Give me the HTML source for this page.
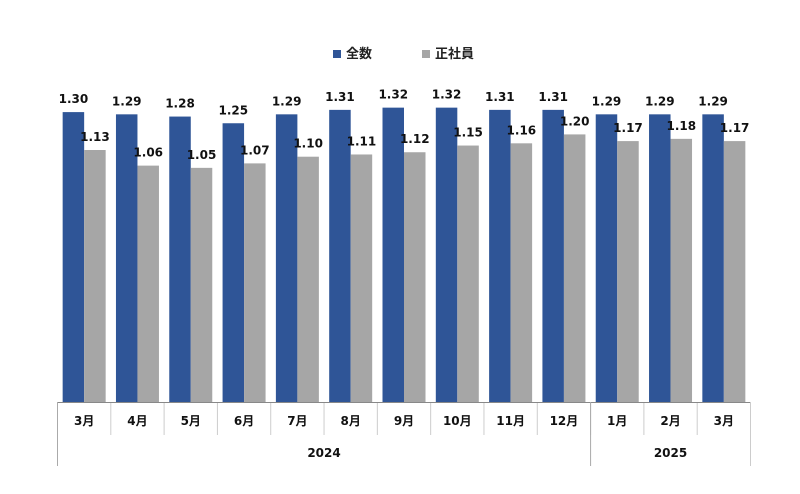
<!DOCTYPE html>
<html><head><meta charset="utf-8"><style>
body{margin:0;background:#fff;}
svg{display:block;font-family:"Liberation Sans","Noto Sans CJK JP",sans-serif;}
.num{font-family:"DejaVu Sans","Noto Sans CJK JP",sans-serif;}
</style></head><body>
<svg width="800" height="494" viewBox="0 0 800 494">
<g id="legend">
<rect x="333" y="50" width="8" height="8" fill="#2f5597"/>
<text x="346" y="58" font-size="13" font-weight="bold" fill="#222">全数</text>
<rect x="422" y="50" width="8" height="8" fill="#a6a6a6"/>
<text x="435" y="58" font-size="13" font-weight="bold" fill="#222">正社員</text>
</g>
<g id="plot"></g>
</svg>
<script>
const categories=["3月","4月","5月","6月","7月","8月","9月","10月","11月","12月","1月","2月","3月"];
const totalValues=[1.30,1.29,1.28,1.25,1.29,1.31,1.32,1.32,1.31,1.31,1.29,1.29,1.29];
const regularValues=[1.13,1.06,1.05,1.07,1.10,1.11,1.12,1.15,1.16,1.20,1.17,1.18,1.17];
const years=["2024","2025"];
const yearCounts=[10,3];
const NS="http://www.w3.org/2000/svg";
const g=document.getElementById('plot');
const x0=57.5,x1=750.5,base=402,scale=223;
const step=(x1-x0)/categories.length;
function xs(i){return x0+i*step;}
function ys(v){return base-v*scale;}
function mk(t,a){const e=document.createElementNS(NS,t);for(const k in a)e.setAttribute(k,a[k]);g.appendChild(e);return e;}
const bw=21.5;
categories.forEach((c,i)=>{
  const cx=xs(i)+step/2;
  const b1=mk('rect',{x:cx-bw,y:ys(totalValues[i]),width:bw,height:base-ys(totalValues[i]),fill:'#2f5597'});
  
  
  const b2=mk('rect',{x:cx,y:ys(regularValues[i]),width:bw,height:base-ys(regularValues[i]),fill:'#a6a6a6'});
  
  
  const l1=mk('text',{x:cx-bw/2,y:ys(totalValues[i])-9,'font-size':12,'font-weight':'bold','text-anchor':'middle',fill:'#111',class:'num'});
  l1.textContent=totalValues[i].toFixed(2);
  
  
  const l2=mk('text',{x:cx+bw/2,y:ys(regularValues[i])-9,'font-size':12,'font-weight':'bold','text-anchor':'middle',fill:'#111',class:'num'});
  l2.textContent=regularValues[i].toFixed(2);
  
  
  const t=mk('text',{x:cx,y:425,'font-size':12,'font-weight':'bold','text-anchor':'middle',fill:'#111',class:'num'});
  t.textContent=c;
  
  
  if(i>0){const s=mk('line',{x1:xs(i),x2:xs(i),y1:base,y2:435,stroke:'#ccc','stroke-width':1});
    
    }
});
const ax=mk('line',{x1:x0,x2:x1,y1:base+0.5,y2:base+0.5,stroke:'#888','stroke-width':1});


let start=0;
years.forEach((y,j)=>{
  const ln=mk('line',{x1:xs(start),x2:xs(start),y1:base,y2:466,stroke:'#aaa','stroke-width':1});
  
  
  const mid=(xs(start)+xs(start+yearCounts[j]))/2;
  const t=mk('text',{x:mid,y:457,'font-size':12,'font-weight':'bold','text-anchor':'middle',fill:'#111',class:'num'});
  t.textContent=y;
  
  
  start+=yearCounts[j];
});
const le=mk('line',{x1:x1,x2:x1,y1:base,y2:466,stroke:'#ccc','stroke-width':1});


</script>
</body></html>
